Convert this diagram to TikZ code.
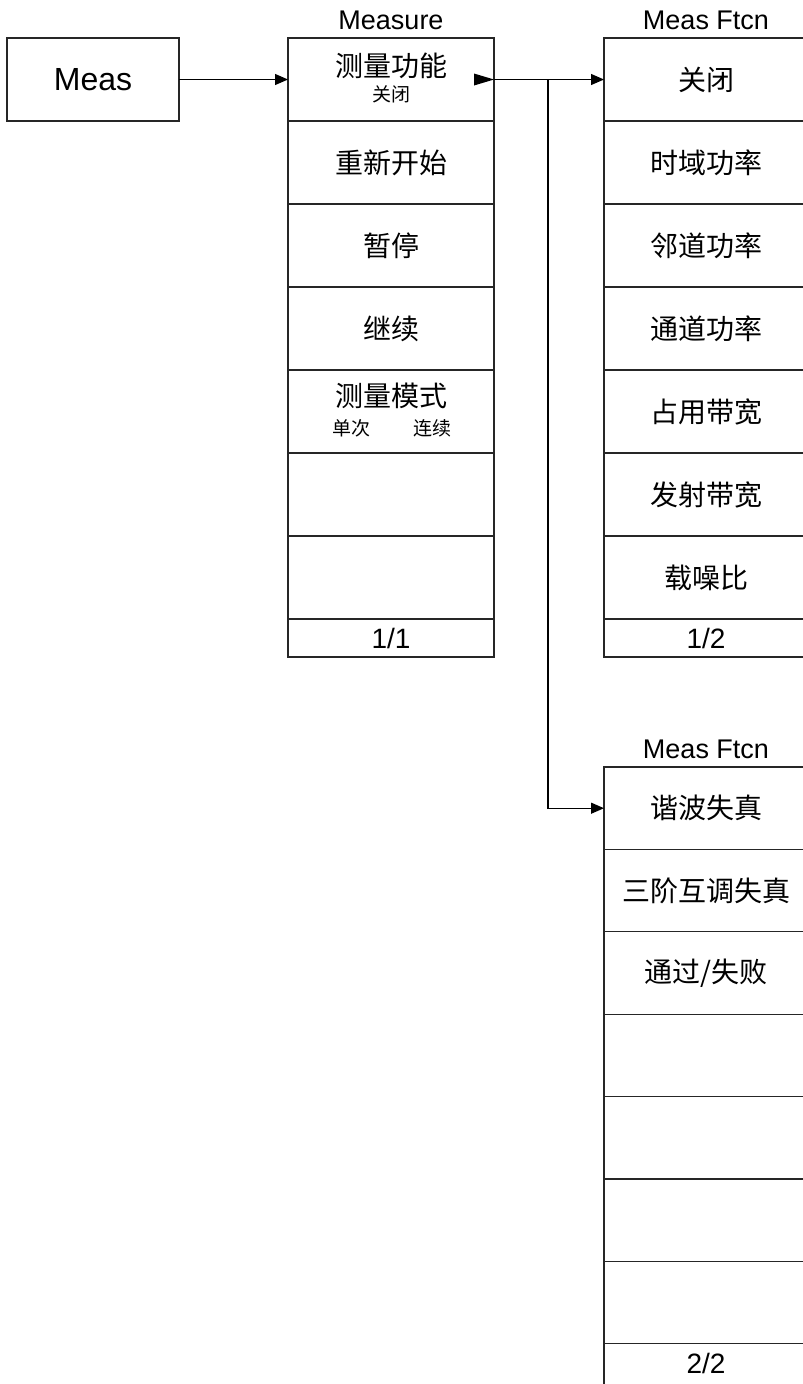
\documentclass[tikz,border=0pt]{standalone}
\usepackage{fontspec}
\setmainfont{Liberation Sans}
\newfontfamily\cjk{Noto Sans CJK SC}
\usetikzlibrary{positioning,arrows.meta}

\begin{document}
\begin{tikzpicture}[
  x=1pt, y=-1pt,
  line width=1.2pt,
  key/.style  = {draw=black!85, minimum width=206pt, minimum height=83pt,
                 inner sep=0pt, outer sep=0pt, font=\cjk\fontsize{28}{30}\selectfont},
  ftcn/.style = {key, minimum width=204pt},
  pg/.style   = {key, minimum height=38pt, font=\fontsize{28}{30}\selectfont},
  ttl/.style  = {inner sep=0pt, font=\fontsize{27}{29}\selectfont},
  main/.style = {inner sep=0pt, font=\cjk\fontsize{28}{30}\selectfont},
  sub/.style  = {inner sep=0pt, font=\cjk\fontsize{19}{20}\selectfont},
  ar/.style   = {-{Triangle[length=13pt,width=11pt]}, line width=1.2pt}
]
\clip (0,0) rectangle (803,1384);

% ---- hard key -------------------------------------------------------------
\node[key, minimum width=172pt, font=\fontsize{32}{34}\selectfont] (meas)
  at (93,79.5) {Meas};

% ---- Measure menu ---------------------------------------------------------
\node[key] (m1) at (391,79.5) {};
\node[main] at ([yshift=13.5pt]m1.center) {测量功能};
\node[sub] at ([yshift=-14.5pt]m1.center) {关闭};
\node[key, below=0pt of m1] (m2) {重新开始};
\node[key, below=0pt of m2] (m3) {暂停};
\node[key, below=0pt of m3] (m4) {继续};
\node[key, below=0pt of m4] (m5) {};
\node[main] at ([yshift=15.5pt]m5.center) {测量模式};
\node[sub] at ([xshift=-40pt,yshift=-16.5pt]m5.center) {单次};
\node[sub] at ([xshift=41pt,yshift=-16.5pt]m5.center) {连续};
\node[key, below=0pt of m5] (m6) {};
\node[key, below=0pt of m6] (m7) {};
\node[pg, below=0pt of m7] (mpg) {1/1};
\node[ttl, above=8pt of m1] {Measure};

% ---- Meas Ftcn, page 1 ----------------------------------------------------
\node[ftcn] (f1) at (706,79.5) {关闭};
\node[ftcn, below=0pt of f1] (f2) {时域功率};
\node[ftcn, below=0pt of f2] (f3) {邻道功率};
\node[ftcn, below=0pt of f3] (f4) {通道功率};
\node[ftcn, below=0pt of f4] (f5) {占用带宽};
\node[ftcn, below=0pt of f5] (f6) {发射带宽};
\node[ftcn, below=0pt of f6] (f7) {载噪比};
\node[pg, minimum width=204pt, below=0pt of f7] (fpg) {1/2};
\node[ttl, above=8pt of f1] {Meas Ftcn};

% ---- Meas Ftcn, page 2 ----------------------------------------------------
\node[ftcn, minimum height=82.4pt] (g1) at (706,808.2) {谐波失真};
\node[ftcn, minimum height=82.4pt, below=0pt of g1] (g2) {三阶互调失真};
\node[ftcn, minimum height=82.4pt, below=0pt of g2] (g3) {通过/失败};
\node[ftcn, minimum height=82.4pt, below=0pt of g3] (g4) {};
\node[ftcn, minimum height=82.4pt, below=0pt of g4] (g5) {};
\node[ftcn, minimum height=82.4pt, below=0pt of g5] (g6) {};
\node[ftcn, minimum height=82.4pt, below=0pt of g6] (g7) {};
\node[pg, minimum width=204pt, minimum height=46pt, text height=20pt,
      text depth=6pt, below=0pt of g7] (gpg) {2/2};
\node[ttl, above=8pt of g1] {Meas Ftcn};

% ---- connectors -----------------------------------------------------------
\draw[ar] (meas.east) -- (m1.west);
\fill ([xshift=-20pt,yshift=6pt]m1.east) -- (m1.east)
  -- ([xshift=-20pt,yshift=-6pt]m1.east) -- cycle;
\draw[ar] (m1.east) -- (f1.west);
\coordinate (br) at ([xshift=54pt]m1.east);
\draw[ar] (br) |- (g1.west);

\end{tikzpicture}
\end{document}
